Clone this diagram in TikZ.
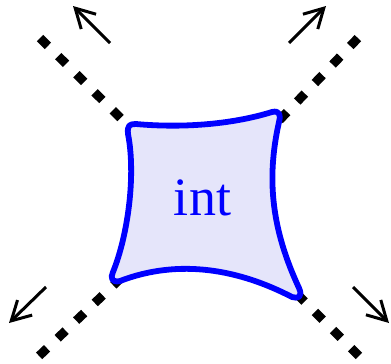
\documentclass[tikz,border=0pt]{standalone}
\usepackage{fontspec}
\setmainfont{Liberation Serif}
\usetikzlibrary{arrows.meta}
\definecolor{blobfill}{RGB}{229,229,250}
\tikzset{
  dotline/.style={line width=9pt, dash pattern=on 11pt off 14.6pt},
  momarrow/.style={line width=3pt, -{Straight Barb[length=19pt,width=21pt,line width=3pt]}},
  blob/.style={draw=blue, fill=blobfill, line width=5.8pt, line join=round},
  blobtext/.style={text=blue, font=\fontsize{54}{60}\selectfont, anchor=base, inner sep=0pt}
}
\begin{document}
\begin{tikzpicture}[x=1pt,y=-1pt]
\useasboundingbox (0,0) rectangle (391,364);
\coordinate (c) at (203,200);
\coordinate (otl) at (40.1,38.1);
\coordinate (otr) at (357.9,38.1);
\coordinate (obl) at (39.1,355.9);
\coordinate (obr) at (358.9,355.9);
\draw[dotline] (otl) -- (c);
\draw[dotline] (otr) -- (c);
\draw[dotline] (obl) -- (c);
\draw[dotline] (obr) -- (c);
\path[blob] (136,124) .. controls (180,128) and (230,125) .. (272,112)
  .. controls (280,110) and (281,116) .. (279,122)
  .. controls (266,180) and (272,230) .. (299,288)
  .. controls (303,297) and (298,299) .. (292,297)
  .. controls (240,270) and (180,258) .. (120,281)
  .. controls (112,283) and (110,278) .. (113,272)
  .. controls (128,235) and (136,175) .. (128,134)
  .. controls (127,125) and (130,124) .. (136,124) -- cycle;
\node[blobtext] (lab) at (202.5,215) {int};
\coordinate (atl0) at (110,43);  \coordinate (atl1) at (73,6);
\coordinate (atr0) at (289,43);  \coordinate (atr1) at (326,6);
\coordinate (abl0) at (46,287);  \coordinate (abl1) at (9,323);
\coordinate (abr0) at (353,287); \coordinate (abr1) at (389,323);
\draw[momarrow] (atl0) -- (atl1);
\draw[momarrow] (atr0) -- (atr1);
\draw[momarrow] (abl0) -- (abl1);
\draw[momarrow] (abr0) -- (abr1);
\end{tikzpicture}
\end{document}
